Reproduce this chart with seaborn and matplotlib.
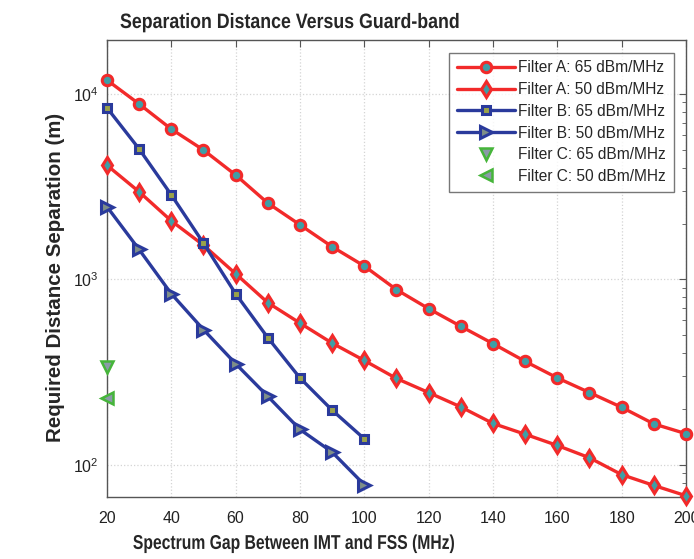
import numpy as np
import pandas as pd
import matplotlib
matplotlib.use("Agg")
import matplotlib.pyplot as plt
from matplotlib.ticker import LogLocator, FixedLocator
from matplotlib.patheffects import AbstractPathEffect
from matplotlib.transforms import Affine2D
import seaborn as sns

# Spectrum gap (MHz)
gap_a = [20, 30, 40, 50, 60, 70, 80, 90, 100, 110, 120, 130, 140, 150, 160, 170, 180, 190, 200]
gap_b = [20, 30, 40, 50, 60, 70, 80, 90, 100]
gap_c = [20]

# Required separation distance (m)
filter_a_65 = [11900, 8840, 6470, 4990, 3660, 2580, 1970, 1500, 1180, 880, 695, 558, 450,
               361, 294, 245, 204, 166, 147]
filter_a_50 = [4130, 2970, 2070, 1530, 1073, 749, 581, 453, 365, 292, 245, 205, 167,
               146, 127, 109, 88.4, 77.3, 68]
filter_b_65 = [8440, 5060, 2860, 1570, 837, 485, 294, 197, 138]
filter_b_50 = [2470, 1450, 837, 536, 351, 234, 155, 117, 78]
filter_c_65 = [337]
filter_c_50 = [228]

x_ticks = [20, 40, 60, 80, 100, 120, 140, 160, 180, 200]


class Condensed(AbstractPathEffect):
    """Draw text glyphs horizontally condensed (about the text's left edge)."""

    def __init__(self, sx):
        super().__init__()
        self.sx = sx

    def draw_path(self, renderer, gc, tpath, affine, rgbFace=None):
        renderer.draw_path(gc, tpath, Affine2D().scale(self.sx, 1.0) + affine, rgbFace)


sns.set_style("white")
plt.rcParams["font.family"] = ["Liberation Sans", "DejaVu Sans"]

fig = plt.figure(figsize=(6.94, 5.59), dpi=100)
ax = fig.add_axes([0.154, 0.111, 0.8345, 0.817])

red = "#f22a2a"
blue = "#2a3a9c"
green = "#46b53a"

line_series = [
    (gap_a, filter_a_65, "Filter A: 65 dBm/MHz", red, "o", "#3f9ea6", 7.5),
    (gap_a, filter_a_50, "Filter A: 50 dBm/MHz", red, "d", "#3f9ea6", 8.5),
    (gap_b, filter_b_65, "Filter B: 65 dBm/MHz", blue, "s", "#9aa24a", 5.5),
    (gap_b, filter_b_50, "Filter B: 50 dBm/MHz", blue, ">", "#7f8f88", 8),
]
for xs, ys, name, col, mk, face, ms in line_series:
    df = pd.DataFrame({"gap": xs, "dist": ys})
    sns.lineplot(data=df, x="gap", y="dist", ax=ax, color=col, linewidth=2.4,
                 marker=mk, markersize=ms, markeredgecolor=col, markeredgewidth=2.2,
                 markerfacecolor=face, label=name, zorder=3, clip_on=False)

for xs, ys, name, mk in [(gap_c, filter_c_65, "Filter C: 65 dBm/MHz", "v"),
                         (gap_c, filter_c_50, "Filter C: 50 dBm/MHz", "<")]:
    df = pd.DataFrame({"gap": xs, "dist": ys})
    sns.lineplot(data=df, x="gap", y="dist", ax=ax, color=green, linestyle="",
                 marker=mk, markersize=9, markeredgecolor=green, markeredgewidth=1.8,
                 markerfacecolor="#8a9aa8", label=name, zorder=4, clip_on=False)

ax.set_yscale("log")
ax.set_xlim(20, 200)
ax.set_ylim(67, 19500)
ax.xaxis.set_major_locator(FixedLocator(x_ticks))
ax.yaxis.set_major_locator(LogLocator(base=10, numticks=10))
ax.yaxis.set_minor_locator(LogLocator(base=10, subs=np.arange(2, 10), numticks=20))

ax.grid(True, which="major", color="#d4d4d4", linestyle=":", linewidth=0.9)
ax.set_axisbelow(True)
for s in ax.spines.values():
    s.set_color("#555555")
    s.set_linewidth(1.0)
ax.tick_params(which="both", direction="in", top=True, right=True, colors="#555555",
               labelcolor="#222222")
ax.tick_params(which="major", length=5, labelsize=11.5)
ax.tick_params(which="minor", length=3)
ax.tick_params(axis="x", pad=10)
ax.tick_params(axis="y", pad=6)

# Title: left-anchored, glyphs condensed
fig.text(120 / 694, 1 - 28 / 559, "Separation Distance Versus Guard-band",
         fontsize=15, fontweight="bold", ha="left", va="baseline",
         path_effects=[Condensed(0.853)])

ax.set_xlabel("Spectrum Gap Between IMT and FSS (MHz)", fontsize=14.4, fontweight="bold",
              ha="left", va="baseline", path_effects=[Condensed(0.785)])
ax.xaxis.set_label_coords((133 - 107) / 579, (497 - 549) / 457)
ax.set_ylabel("Required Distance Separation (m)", fontsize=14.8, fontweight="bold")
ax.yaxis.set_label_coords(-0.072, 0.481)

leg = ax.legend(loc="upper right", fontsize=11.2, frameon=True, fancybox=False,
                handlelength=3.75, borderpad=0.5, labelspacing=0.43,
                handletextpad=0.2, borderaxespad=0.8)
leg.get_frame().set_edgecolor("#555555")
leg.get_frame().set_linewidth(1.0)

fig.savefig("out.png", dpi=100)
